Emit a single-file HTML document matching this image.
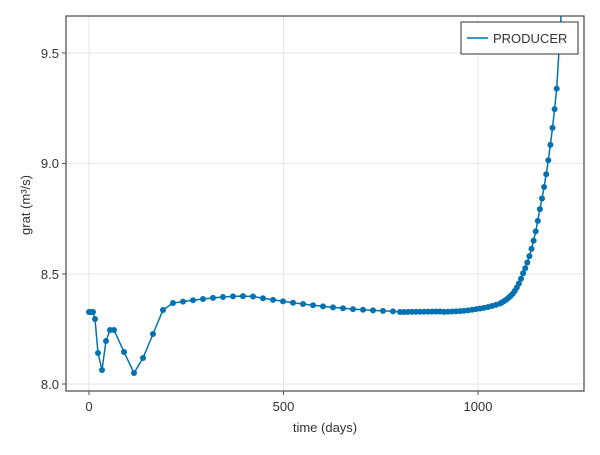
<!DOCTYPE html>
<html><head><meta charset="utf-8"><style>
body{margin:0;background:#fff;}
text{font-family:"Liberation Sans",sans-serif;fill:#333;}
</style></head><body>
<svg id="s" width="600" height="450" xmlns="http://www.w3.org/2000/svg">
<defs><clipPath id="c"><rect x="66" y="16" width="518" height="375"/></clipPath></defs>
<g stroke="#e6e6e6" stroke-width="1">
<line x1="89" y1="16" x2="89" y2="391"/><line x1="283.5" y1="16" x2="283.5" y2="391"/><line x1="478" y1="16" x2="478" y2="391"/>
<line x1="66" y1="53" x2="584" y2="53"/><line x1="66" y1="163.5" x2="584" y2="163.5"/><line x1="66" y1="274" x2="584" y2="274"/><line x1="66" y1="384" x2="584" y2="384"/>
</g>
<g id="d" clip-path="url(#c)"></g>
<rect x="66" y="16" width="518" height="375" fill="none" stroke="#555" stroke-width="1.3"/>
<g stroke="#555" stroke-width="1">
<line x1="62" y1="53" x2="66" y2="53"/><line x1="62" y1="163.5" x2="66" y2="163.5"/><line x1="62" y1="274" x2="66" y2="274"/><line x1="62" y1="384" x2="66" y2="384"/>
<line x1="89" y1="391" x2="89" y2="395"/><line x1="283.5" y1="391" x2="283.5" y2="395"/><line x1="478" y1="391" x2="478" y2="395"/>
</g>
<g font-size="13" text-anchor="end">
<text x="59" y="58">9.5</text><text x="59" y="168">9.0</text><text x="59" y="279">8.5</text><text x="59" y="389">8.0</text>
</g>
<g font-size="13" text-anchor="middle">
<text x="89" y="411">0</text><text x="283.5" y="411">500</text><text x="478" y="411">1000</text>
<text x="325" y="432">time (days)</text>
</g>
<text font-size="13" text-anchor="middle" transform="translate(30,205) rotate(-90)">grat (m³/s)</text>
<rect x="461" y="22" width="117" height="32" fill="#fff" stroke="#333" stroke-width="1"/>
<line x1="467" y1="38" x2="488" y2="38" stroke="#0072b2" stroke-width="1.5"/>
<text x="493" y="43" font-size="13">PRODUCER</text>
</svg>
<script>
var pts=[[89,312],[91,312],[93,312],[95,319],[98,353],[102,370],[106,341],[110,330],[114,330],[124,352],[134,373],[143,358],[153,334],[163,310],[173,303]];
function mid(x){ // 173..440 smooth hump
 var t=(x-173);
 var peak=296, xp=250;
 if(x<xp) return 303-(303-peak)*Math.sin((x-173)/(xp-173)*Math.PI/2);
 var u=(x-xp)/(430-xp); if(u>1)u=1;
 return peak+(312-peak)*(1-Math.pow(1-u,2));
}
for(var x=183;x<400;x+=10)pts.push([x,mid(x)]);
var an=[[440,0.5],[477,3.5],[500,9],[513,19],[523,39],[540,104],[557,227],[560,260]];
function late(x){
 if(x<=440){return 312-0.5*(x-400)/40;}
 for(var i=0;i<an.length-1;i++){var a=an[i],b=an[i+1];if(x<=b[0]){var f=(x-a[0])/(b[0]-a[0]);return 312.5-Math.exp(Math.log(a[1])+(Math.log(b[1])-Math.log(a[1]))*f);}}
 return 312.5-260;
}
for(var x=400;x<=557;x+=(x<500?4:2.1))pts.push([x,Math.min(312,late(x))]);
var d=document.getElementById('d'),ns='http://www.w3.org/2000/svg';
var all=pts.concat([[562,0]]);
var pl=document.createElementNS(ns,'polyline');
pl.setAttribute('points',all.map(function(p){return p[0].toFixed(1)+','+p[1].toFixed(1)}).join(' '));
pl.setAttribute('fill','none');pl.setAttribute('stroke','#0072b2');pl.setAttribute('stroke-width','1.5');
d.appendChild(pl);
pts.forEach(function(p){var c=document.createElementNS(ns,'circle');c.setAttribute('cx',p[0]);c.setAttribute('cy',p[1]);c.setAttribute('r','3');c.setAttribute('fill','#0072b2');d.appendChild(c);});
</script>
</body></html>
